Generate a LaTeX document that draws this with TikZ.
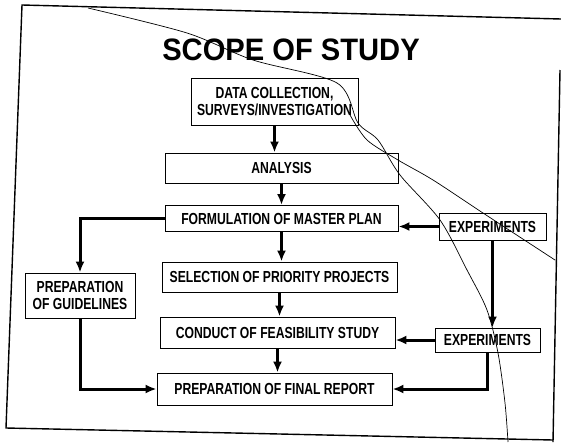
\documentclass[tikz,border=0pt]{standalone}
\usepackage{fontspec}
\setmainfont{Liberation Sans}
\newfontfamily\boxfont[FakeStretch=0.76]{Liberation Sans}
\newfontfamily\titlefont[FakeStretch=0.94]{Liberation Sans}
\usetikzlibrary{arrows.meta}

\begin{document}
\begin{tikzpicture}[x=1pt,y=-1pt,
    stage/.style={draw, line width=0.9pt, inner sep=0pt, align=center,
        font=\boxfont\bfseries\fontsize{16}{17}\selectfont},
    flow/.style={line width=3pt, -{Latex[length=11pt,width=9pt]}},
    scrawl/.style={line width=0.7pt}]
    \useasboundingbox (0,0) rectangle (561,442);
    % Frame
    \draw[line width=1.4pt] (561,19) -- (22,5) -- (6,428) -- (553,440);
    \draw[line width=1.4pt] (560,70) -- (553,442);
    % Title
    \node[font=\titlefont\bfseries\fontsize{31}{31}\selectfont] (Title) at (291,50) {SCOPE OF STUDY};
    % Main steps
    \foreach \i/\x/\y/\w/\h/\txt in {
        1/274.5/101.5/167/47/{DATA COLLECTION,\\SURVEYS/INVESTIGATION},
        2/281.5/168/233/30/{ANALYSIS},
        3/281.5/218.5/233/26/{FORMULATION OF MASTER PLAN},
        4/279.5/277/235/30/{SELECTION OF PRIORITY PROJECTS},
        5/277.5/332.5/235/31/{CONDUCT OF FEASIBILITY STUDY},
        6/274.5/389/235/32/{PREPARATION OF FINAL REPORT}} {
        \node[stage, minimum width=\w pt, minimum height=\h pt] (Step-\i) at (\x,\y) {\txt};
    }
    % Side boxes
    \node[stage, minimum width=110pt, minimum height=45pt] (Guide) at (80,295.5) {PREPARATION\\OF GUIDELINES};
    \node[stage, minimum width=107pt, minimum height=27pt] (Exp-1) at (492.5,226.5) {EXPERIMENTS};
    \node[stage, minimum width=105pt, minimum height=24pt] (Exp-2) at (487.5,340) {EXPERIMENTS};
    % Arrows
    \foreach \i/\j in {1/2,2/3,3/4,4/5,5/6} {
        \draw[flow] (Step-\i) -- (Step-\i |- Step-\j.north);
    }
    \draw[flow] (Step-3.west) -| (Guide.north);
    \draw[flow] (Guide.south) |- (Step-6.west);
    \draw[flow] (Exp-1.west) -- (Exp-1.west -| Step-3.east);
    \draw[flow] (Exp-1) -- (Exp-1 |- Exp-2.north);
    \draw[flow] (Exp-2.west) -- (Exp-2.west -| Step-5.east);
    \draw[flow] (Exp-2.south) |- (Step-6.east);
    % Stray pen lines
    \draw[scrawl] plot[smooth] coordinates {(88,8) (187,33) (253,60) (337,83) (358,123)
        (378,140) (400,175) (440,220) (467,270) (487,310) (498,353) (505,403) (508,442)};
    \draw[scrawl] plot[smooth] coordinates {(350,115) (367,140) (398,160) (433,180) (483,213) (555,260)};
\end{tikzpicture}
\end{document}
